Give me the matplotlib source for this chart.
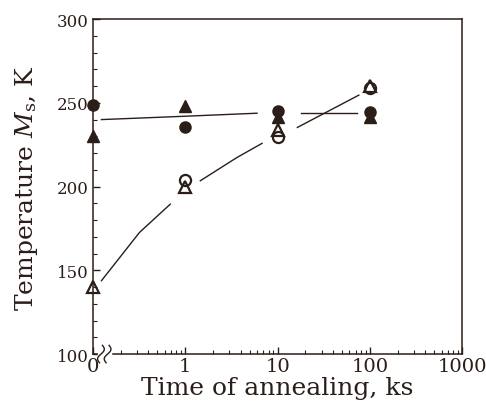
import numpy as np
import matplotlib
matplotlib.use("Agg")
import matplotlib.pyplot as plt
from matplotlib.ticker import FixedLocator, FixedFormatter, LogLocator, MultipleLocator

plt.rcParams['font.family'] = 'DejaVu Serif'
plt.rcParams['mathtext.fontset'] = 'dejavuserif'

INK = '#2b1d18'
ZERO = 0.1  # where "0" sits on the log axis

# measured points (time in ks, Ms in K); 0 ks is plotted at ZERO
filled_circle_t = [ZERO, 1, 10, 100]
filled_circle_ms = [249, 235.5, 245, 244.5]
filled_tri_t = [ZERO, 1, 10, 100]
filled_tri_ms = [230, 248, 241.5, 241.5]
open_circle_t = [1, 10, 100]
open_circle_ms = [204, 229.5, 259]
open_tri_t = [ZERO, 1, 10, 100]
open_tri_ms = [140, 200, 234, 260]

# hand-drawn guide lines, drawn in pieces with gaps at the markers
flat_segments = [
    ([0.124, 1, 6.0], [240, 242, 243.8]),
    ([17.8, 73], [244, 244]),
]
curve_segments = [
    ([0.124, 0.32, 0.69], [143.8, 172.6, 189.5]),
    ([1.46, 3.65, 6.8], [203.5, 217.4, 225.8]),
    ([16.4, 76], [235.3, 254.6]),
]

fig = plt.figure(figsize=(4.86, 4.10), dpi=100)
ax = fig.add_axes([0.191, 0.134, 0.760, 0.817])

for xs, ys in flat_segments + curve_segments:
    ax.plot(xs, ys, color=INK, lw=1.0)

ms = 8
ax.plot(filled_circle_t, filled_circle_ms, 'o', color=INK, ms=ms, clip_on=False, zorder=5)
ax.plot(filled_tri_t, filled_tri_ms, '^', color=INK, ms=ms, clip_on=False, zorder=5)
ax.plot(open_circle_t, open_circle_ms, 'o', mfc='white', mec=INK, mew=1.6, ms=ms,
        clip_on=False, zorder=5)
ax.plot(open_tri_t, open_tri_ms, '^', mfc='none', mec=INK, mew=1.6, ms=ms,
        clip_on=False, zorder=6)

ax.set_xscale('log')
ax.set_xlim(ZERO, 1000)
ax.set_ylim(100, 300)

ax.xaxis.set_major_locator(FixedLocator([ZERO, 1, 10, 100, 1000]))
ax.xaxis.set_major_formatter(FixedFormatter(['0', '1', '10', '100', '1000']))
ax.xaxis.set_minor_locator(LogLocator(base=10, subs=np.arange(2, 10), numticks=20))
ax.yaxis.set_major_locator(MultipleLocator(50))
ax.yaxis.set_minor_locator(MultipleLocator(10))

ax.tick_params(which='both', direction='in', colors=INK, top=False, right=False)
ax.tick_params(which='major', length=5, width=1)
ax.tick_params(which='minor', length=3, width=0.8)
ax.tick_params(axis='x', labelsize=14, pad=2)
ax.tick_params(axis='y', labelsize=12, pad=3)

for s in ax.spines.values():
    s.set_color(INK)
    s.set_linewidth(1.1)

# axis break marks near x = 0
tt = np.linspace(-1, 1, 30)
for dx in (0.022, 0.040):
    ax.fill_between([dx - 0.008, dx + 0.008], -0.01, 0.01, color='white',
                    transform=ax.transAxes, clip_on=False, zorder=7)
    bx = dx + 0.007 * np.sin(tt * np.pi) + 0.004 * tt
    by = 0.026 * tt
    ax.plot(bx, by, color=INK, lw=1.0, transform=ax.transAxes, clip_on=False, zorder=8)

ax.set_xlabel('Time of annealing, ks', fontsize=18, color=INK, labelpad=1)
ax.set_ylabel(r'Temperature $\mathit{M}_\mathrm{s}$, K', fontsize=18, color=INK, labelpad=12)

fig.savefig('out.png', dpi=100)
